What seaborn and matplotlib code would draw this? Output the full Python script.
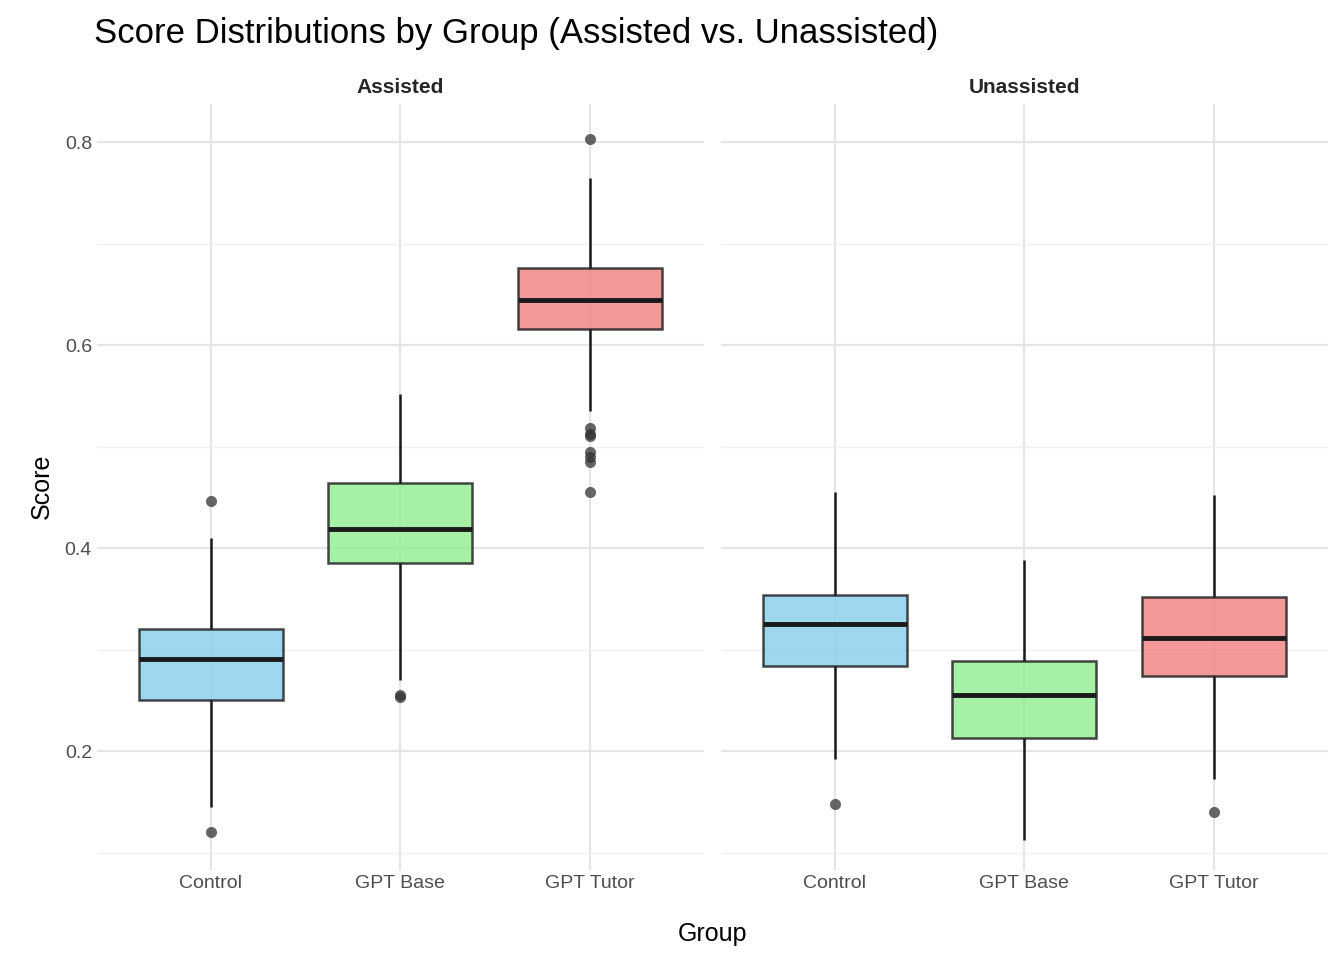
import matplotlib
matplotlib.use("Agg")
import matplotlib.pyplot as plt
import seaborn as sns
import pandas as pd

groups = ["Control", "GPT Base", "GPT Tutor"]
panels = ["Assisted", "Unassisted"]
colors = ["#87CEEB", "#90EE90", "#F08080"]

# box stats per panel/group: [whisker low, q1, median, q3, whisker high]
assisted_stats = {
    "Control": [0.145, 0.250, 0.291, 0.320, 0.410],
    "GPT Base": [0.270, 0.385, 0.419, 0.464, 0.552],
    "GPT Tutor": [0.535, 0.616, 0.645, 0.676, 0.765],
}
unassisted_stats = {
    "Control": [0.192, 0.284, 0.325, 0.354, 0.455],
    "GPT Base": [0.112, 0.213, 0.255, 0.289, 0.388],
    "GPT Tutor": [0.172, 0.274, 0.311, 0.352, 0.452],
}
assisted_outliers = {
    "Control": [0.446, 0.120],
    "GPT Base": [0.255, 0.253],
    "GPT Tutor": [0.803, 0.518, 0.512, 0.510, 0.495, 0.490, 0.485, 0.455],
}
unassisted_outliers = {
    "Control": [0.148],
    "GPT Base": [],
    "GPT Tutor": [0.140],
}

sns.set_theme(style="whitegrid")
plt.rcParams["font.family"] = ["Liberation Sans", "DejaVu Sans"]

fig, axes = plt.subplots(1, 2, figsize=(13.44, 9.6), dpi=100, sharey=True)
fig.subplots_adjust(left=0.072, right=0.988, top=0.892, bottom=0.094, wspace=0.028)

for ax, panel, stats, outs in zip(axes, panels,
                                  [assisted_stats, unassisted_stats],
                                  [assisted_outliers, unassisted_outliers]):
    rows = [(g, v) for g in groups for v in stats[g]]
    df = pd.DataFrame(rows, columns=["Group", "Score"])
    sns.boxplot(data=df, x="Group", y="Score", order=groups, hue="Group",
                palette=colors, hue_order=groups, whis=(0, 100), showfliers=False,
                width=0.76, saturation=1, ax=ax, legend=False,
                boxprops=dict(alpha=0.8, edgecolor="#1a1a1a", linewidth=1.8),
                whiskerprops=dict(color="#1a1a1a", linewidth=1.8),
                capprops=dict(linewidth=0),
                medianprops=dict(color="#1a1a1a", linewidth=3.5))
    orows = [(g, v) for g in groups for v in outs[g]]
    odf = pd.DataFrame(orows, columns=["Group", "Score"])
    sns.stripplot(data=odf, x="Group", y="Score", order=groups, jitter=False,
                  color="#333333", alpha=0.75, size=8, ax=ax)
    ax.set_title(panel, fontsize=15, fontweight="bold", pad=8)
    ax.set_xlabel("")
    ax.set_ylabel("")
    ax.set_xlim(-0.6, 2.6)
    ax.set_facecolor("white")
    for s in ax.spines.values():
        s.set_visible(False)
    ax.grid(True, color="#E5E5E5", linewidth=1.5)
    ax.tick_params(axis="both", labelsize=14, colors="#4D4D4D", length=0)
    ax.set_axisbelow(True)

axes[0].set_ylim(0.083, 0.838)
axes[0].set_yticks([0.2, 0.4, 0.6, 0.8])
axes[0].set_yticks([0.1, 0.3, 0.5, 0.7], minor=True)
for ax in axes:
    ax.grid(True, which="minor", axis="y", color="#F0F0F0", linewidth=1.0)
    ax.tick_params(which="minor", length=0)
axes[0].set_ylabel("Score", fontsize=18, color="black", labelpad=8)
fig.text(0.53, 0.02, "Group", fontsize=18, ha="center", color="black")
fig.text(0.07, 0.955, "Score Distributions by Group (Assisted vs. Unassisted)",
         fontsize=25, ha="left", color="black")

fig.savefig("out.png", dpi=100, facecolor="white")
